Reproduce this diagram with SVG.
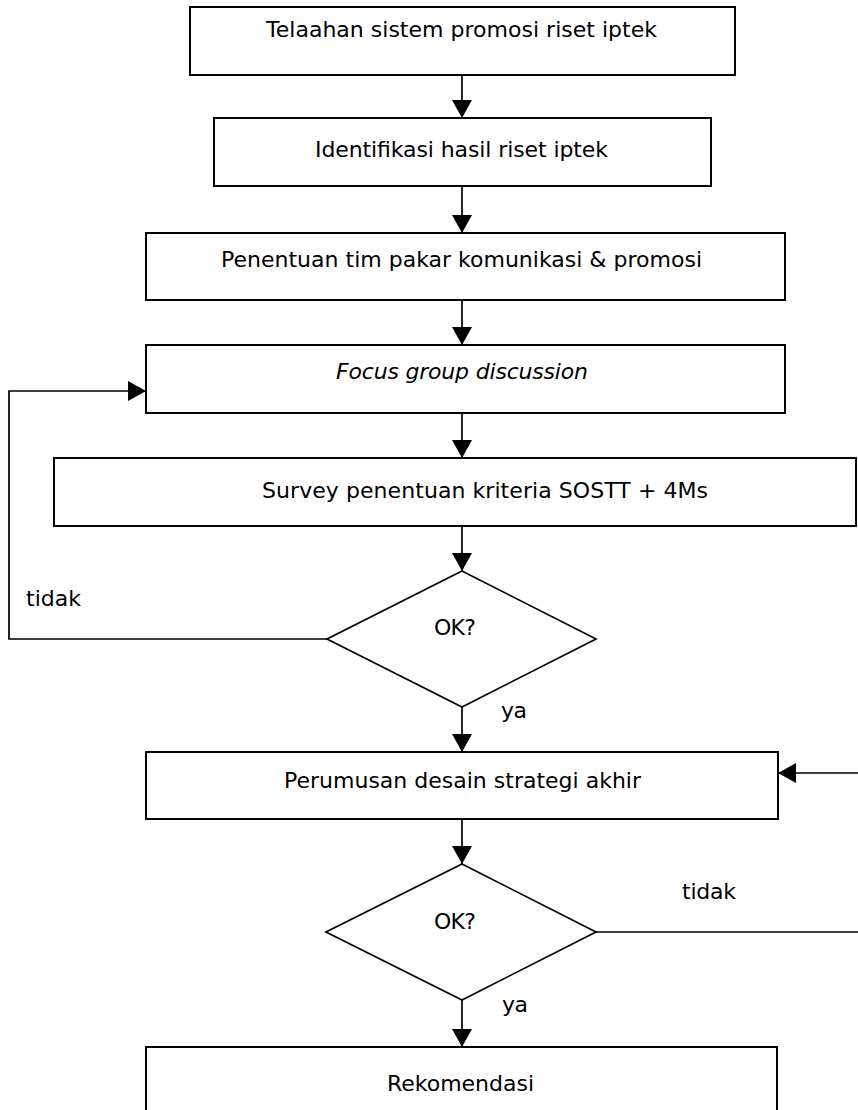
<svg xmlns="http://www.w3.org/2000/svg" width="858" height="1110" viewBox="0 0 858 1110">
<style>
.box{fill:#fff;stroke:#000;stroke-width:2}
.dia{fill:#fff;stroke:#000;stroke-width:1.7}
.con{fill:none;stroke:#000;stroke-width:1.7}
text{font-family:"DejaVu Sans","Liberation Sans",sans-serif;font-size:22px;fill:#000}
.it{font-style:italic}
</style>
<defs>
<marker id="ah" markerUnits="userSpaceOnUse" markerWidth="20" markerHeight="20" viewBox="0 0 18 20" refX="18" refY="10" orient="auto">
<path d="M0,0 L18,10 L0,20 Z" fill="#000"/>
</marker>
</defs>
<rect width="858" height="1110" fill="#fff"/>
<g id="connectors">
<line class="con" x1="462" y1="75" x2="462" y2="118" marker-end="url(#ah)"/>
<line class="con" x1="462" y1="186" x2="462" y2="233" marker-end="url(#ah)"/>
<line class="con" x1="462" y1="300" x2="462" y2="345" marker-end="url(#ah)"/>
<line class="con" x1="462" y1="413" x2="462" y2="458" marker-end="url(#ah)"/>
<line class="con" x1="462" y1="526" x2="462" y2="571" marker-end="url(#ah)"/>
<line class="con" x1="462" y1="707" x2="462" y2="752" marker-end="url(#ah)"/>
<line class="con" x1="462" y1="819" x2="462" y2="864" marker-end="url(#ah)"/>
<line class="con" x1="462" y1="1000" x2="462" y2="1047" marker-end="url(#ah)"/>
<polyline class="con" points="327,639 9,639 9,391 146,391" marker-end="url(#ah)"/>
<line class="con" x1="596" y1="932" x2="858" y2="932"/>
<line class="con" x1="858" y1="773" x2="778" y2="773" marker-end="url(#ah)"/>
<text x="26" y="606" textLength="55">tidak</text>
<text x="501" y="718" textLength="26">ya</text>
<text x="682" y="899" textLength="54">tidak</text>
<text x="502" y="1012" textLength="26">ya</text>
</g>
<g id="n1">
<rect class="box" x="190" y="7" width="545" height="68"/>
<text x="266" y="37" textLength="391">Telaahan sistem promosi riset iptek</text>
</g>
<g id="n2">
<rect class="box" x="214" y="118" width="497" height="68"/>
<text x="315" y="157" textLength="293">Identifikasi hasil riset iptek</text>
</g>
<g id="n3">
<rect class="box" x="146" y="233" width="639" height="67"/>
<text x="221" y="267" textLength="481">Penentuan tim pakar komunikasi &amp; promosi</text>
</g>
<g id="n4">
<rect class="box" x="146" y="345" width="639" height="68"/>
<text class="it" x="336" y="379" textLength="252">Focus group discussion</text>
</g>
<g id="n5">
<rect class="box" x="54" y="458" width="802" height="68"/>
<text x="262" y="498" textLength="446">Survey penentuan kriteria SOSTT + 4Ms</text>
</g>
<g id="d1">
<polygon class="dia" points="462,571 596,639 462,707 327,639"/>
<text x="434" y="635" textLength="42">OK?</text>
</g>
<g id="n6">
<rect class="box" x="146" y="752" width="632" height="67"/>
<text x="284" y="788" textLength="357">Perumusan desain strategi akhir</text>
</g>
<g id="d2">
<polygon class="dia" points="462,864 596,932 462,1000 326,932"/>
<text x="434" y="929" textLength="42">OK?</text>
</g>
<g id="n7">
<rect class="box" x="146" y="1047" width="631" height="80"/>
<text x="387" y="1091" textLength="147">Rekomendasi</text>
</g>
</svg>
